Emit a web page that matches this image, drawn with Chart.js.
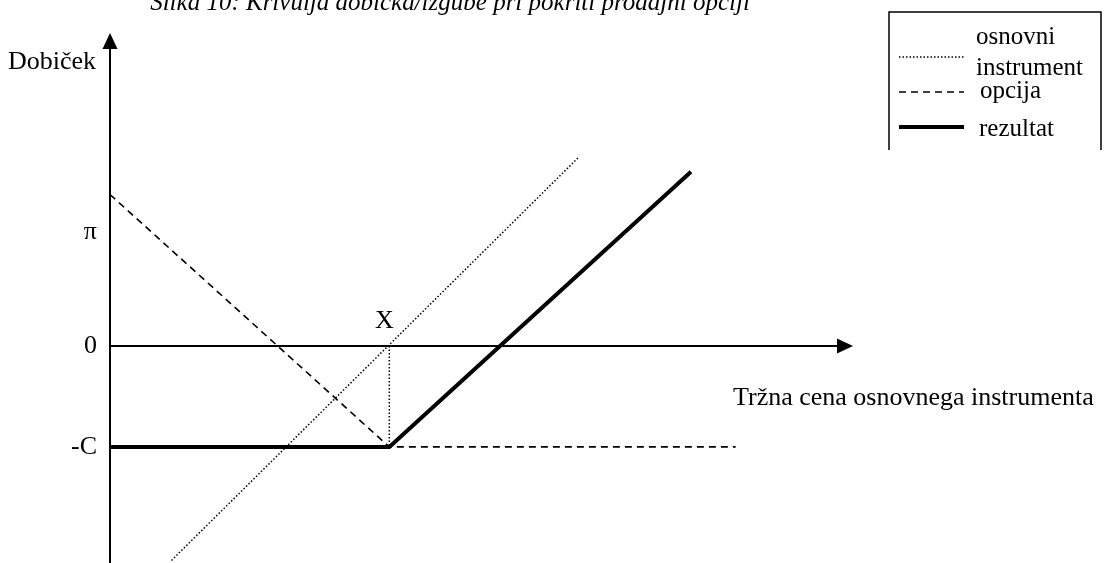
<!DOCTYPE html>
<html>
<head>
<meta charset="utf-8">
<script src="https://cdn.jsdelivr.net/npm/chart.js@4"></script>
<style>
  body { margin: 0; background: #fff; }
  canvas { display: block; }
</style>
</head>
<body>
<canvas id="payoff" width="1106" height="563"></canvas>
<script>
// chart values (price units on x, profit units on y)
const titleText = "Slika 10: Krivulja dobička/izgube pri pokriti prodajni opciji";
const xAxisLabel = "Tržna cena osnovnega instrumenta";
const yAxisLabel = "Dobiček";
const strikeLabel = "X";
const strike = 10;
const yTickLabels = ["π", "0", "-C"];
const yTickValues = [4.5, 0, -4];

const underlyingX = [2.2, 16.8];
const underlyingY = [-8.5, 7.5];
const optionX = [0, 10, 22.4];
const optionY = [6, -4, -4];
const resultX = [0, 10, 20.8];
const resultY = [-4, -4, 6.9];
const strikeDropX = [10, 10];
const strikeDropY = [0, -4];

const legendNames = [["osnovni", "instrument"], ["opcija"], ["rezultat"]];

const toPoints = (xs, ys) => xs.map((x, i) => ({ x: x, y: ys[i] }));

const serif = '"Liberation Serif", "Times New Roman", serif';

// axes, arrows, labels and the legend box
const decorations = {
  id: "decorations",
  afterDraw(chart) {
    const ctx = chart.ctx;
    const xs = chart.scales.x;
    const ys = chart.scales.y;
    const x0 = xs.getPixelForValue(0);
    const y0 = ys.getPixelForValue(0);
    const yTop = ys.getPixelForValue(ys.max);
    const yBot = ys.getPixelForValue(ys.min);
    const xEnd = xs.getPixelForValue(xs.max);

    ctx.save();
    ctx.strokeStyle = "#000";
    ctx.fillStyle = "#000";
    ctx.lineWidth = 2;
    ctx.setLineDash([]);

    // y axis
    ctx.beginPath();
    ctx.moveTo(x0, yBot);
    ctx.lineTo(x0, yTop + 12);
    ctx.stroke();
    ctx.beginPath();
    ctx.moveTo(x0, yTop);
    ctx.lineTo(x0 - 7.5, yTop + 16);
    ctx.lineTo(x0 + 7.5, yTop + 16);
    ctx.closePath();
    ctx.fill();

    // x axis
    ctx.beginPath();
    ctx.moveTo(x0, y0);
    ctx.lineTo(xEnd - 12, y0);
    ctx.stroke();
    ctx.beginPath();
    ctx.moveTo(xEnd, y0);
    ctx.lineTo(xEnd - 16, y0 - 7.5);
    ctx.lineTo(xEnd - 16, y0 + 7.5);
    ctx.closePath();
    ctx.fill();

    ctx.font = "26px " + serif;
    ctx.textBaseline = "middle";

    // tick labels on the y axis
    ctx.textAlign = "right";
    yTickLabels.forEach((lab, i) => {
      ctx.fillText(lab, x0 - 13, ys.getPixelForValue(yTickValues[i]));
    });

    ctx.textAlign = "left";
    ctx.fillText(yAxisLabel, 8, yTop + 29);
    ctx.fillText(xAxisLabel, 733, y0 + 52);

    ctx.textAlign = "center";
    ctx.fillText(strikeLabel, xs.getPixelForValue(strike) - 5, y0 - 25);

    // title (cut off at the top like the scan)
    ctx.font = "italic 25px " + serif;
    ctx.textBaseline = "alphabetic";
    ctx.fillText(titleText, 450, 10);

    // legend
    ctx.lineWidth = 1.5;
    ctx.beginPath();
    ctx.moveTo(889, 150);
    ctx.lineTo(889, 12);
    ctx.lineTo(1101, 12);
    ctx.lineTo(1101, 150);
    ctx.stroke();

    const sampleY = [57, 92, 127];
    const styles = chart.data.datasets;
    [0, 1, 2].forEach(i => {
      const ds = styles[i];
      ctx.lineWidth = ds.borderWidth;
      ctx.setLineDash(ds.borderDash || []);
      ctx.beginPath();
      ctx.moveTo(899, sampleY[i]);
      ctx.lineTo(964, sampleY[i]);
      ctx.stroke();
    });
    ctx.setLineDash([]);
    ctx.font = "25px " + serif;
    ctx.textBaseline = "middle";
    ctx.textAlign = "left";
    ctx.fillText(legendNames[0][0], 976, 37);
    ctx.fillText(legendNames[0][1], 976, 68);
    ctx.fillText(legendNames[1][0], 980, 91);
    ctx.fillText(legendNames[2][0], 979, 129);

    ctx.restore();
  }
};

new Chart(document.getElementById("payoff"), {
  type: "scatter",
  data: {
    datasets: [
      {
        label: "osnovni instrument",
        data: toPoints(underlyingX, underlyingY),
        showLine: true,
        borderColor: "#000",
        borderWidth: 1.5,
        borderDash: [1.5, 2],
        pointRadius: 0
      },
      {
        label: "opcija",
        data: toPoints(optionX, optionY),
        showLine: true,
        borderColor: "#000",
        borderWidth: 1.6,
        borderDash: [7, 5],
        pointRadius: 0
      },
      {
        label: "rezultat",
        data: toPoints(resultX, resultY),
        showLine: true,
        borderColor: "#000",
        borderWidth: 4,
        pointRadius: 0
      },
      {
        label: "X",
        data: toPoints(strikeDropX, strikeDropY),
        showLine: true,
        borderColor: "#000",
        borderWidth: 1.5,
        borderDash: [1.5, 2],
        pointRadius: 0
      }
    ]
  },
  options: {
    responsive: false,
    animation: false,
    clip: false,
    layout: { padding: { left: 110, right: 253, top: 33, bottom: 0 } },
    plugins: { legend: { display: false }, tooltip: { enabled: false } },
    scales: {
      x: { type: "linear", min: 0, max: 26.6, display: false },
      y: { type: "linear", min: -8.6, max: 12.4, display: false }
    }
  },
  plugins: [decorations]
});
</script>
</body>
</html>
